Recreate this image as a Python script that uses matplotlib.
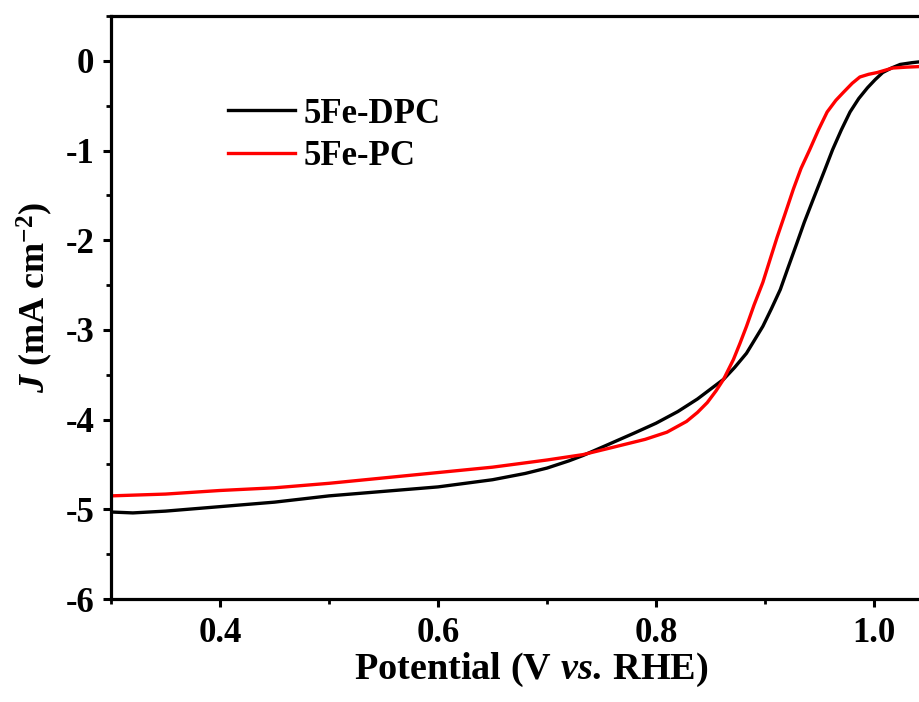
import matplotlib
matplotlib.use("Agg")
import matplotlib.pyplot as plt
from matplotlib.ticker import MultipleLocator

plt.rcParams['font.family'] = ['Liberation Serif', 'DejaVu Serif']
plt.rcParams['font.weight'] = 'bold'
plt.rcParams['mathtext.fontset'] = 'custom'
plt.rcParams['mathtext.rm'] = 'Liberation Serif:bold'
plt.rcParams['mathtext.bf'] = 'Liberation Serif:bold'
plt.rcParams['mathtext.it'] = 'Liberation Serif:bold:italic'
plt.rcParams['mathtext.bfit'] = 'Liberation Serif:bold:italic'

# 5Fe-DPC (black)
dpc_x = [0.30, 0.32, 0.35, 0.40, 0.45, 0.50, 0.55, 0.60, 0.65, 0.68, 0.70, 0.72, 0.733, 0.75,
         0.78, 0.80, 0.82, 0.838, 0.85, 0.862, 0.872, 0.883, 0.890, 0.898, 0.906,
         0.914, 0.921, 0.929, 0.936, 0.944, 0.955, 0.962, 0.970, 0.978, 0.986,
         0.994, 1.001, 1.008, 1.016, 1.024, 1.035, 1.05]
dpc_y = [-5.03, -5.04, -5.02, -4.97, -4.92, -4.85, -4.80, -4.75, -4.67, -4.60, -4.54, -4.46, -4.40, -4.31,
         -4.15, -4.04, -3.91, -3.77, -3.66, -3.55, -3.42, -3.26, -3.12, -2.96, -2.76,
         -2.55, -2.31, -2.04, -1.80, -1.55, -1.21, -0.99, -0.77, -0.57, -0.42,
         -0.30, -0.21, -0.13, -0.08, -0.04, -0.02, 0.00]

# 5Fe-PC (red)
pc_x = [0.30, 0.35, 0.40, 0.45, 0.50, 0.55, 0.60, 0.65, 0.70, 0.733, 0.76, 0.79,
        0.81, 0.828, 0.838, 0.847, 0.855, 0.862, 0.871, 0.877, 0.883, 0.890, 0.898,
        0.905, 0.911, 0.918, 0.926, 0.933, 0.941, 0.949, 0.957, 0.965, 0.972,
        0.980, 0.987, 0.995, 1.003, 1.017, 1.03, 1.05]
pc_y = [-4.85, -4.83, -4.79, -4.76, -4.71, -4.65, -4.59, -4.53, -4.45, -4.39, -4.31, -4.22,
        -4.14, -4.02, -3.92, -3.81, -3.68, -3.55, -3.33, -3.15, -2.96, -2.72, -2.47,
        -2.20, -1.97, -1.72, -1.43, -1.20, -0.99, -0.77, -0.57, -0.44, -0.35,
        -0.25, -0.18, -0.15, -0.13, -0.08, -0.07, -0.06]

series_labels = ['5Fe-DPC', '5Fe-PC']
series_colors = ['black', '#ff0000']

fig = plt.figure(figsize=(9.2, 7.02), dpi=100)
ax = fig.add_axes([0.1207, 0.1467, 0.9478, 0.8305])

ax.plot(dpc_x, dpc_y, color=series_colors[0], lw=2.4, label=series_labels[0],
        solid_joinstyle='round')
ax.plot(pc_x, pc_y, color=series_colors[1], lw=2.4, label=series_labels[1],
        solid_joinstyle='round')

ax.set_xlim(0.3, 1.1)
ax.set_ylim(-6, 0.5)
ax.set_xticks([0.4, 0.6, 0.8, 1.0])
ax.set_xticklabels(['0.4', '0.6', '0.8', '1.0'])
ax.set_yticks([-6, -5, -4, -3, -2, -1, 0])
ax.set_yticklabels(['-6', '-5', '-4', '-3', '-2', '-1', '0'])
ax.xaxis.set_minor_locator(MultipleLocator(0.1))
ax.yaxis.set_minor_locator(MultipleLocator(0.5))

for s in ax.spines.values():
    s.set_linewidth(2.3)
ax.spines['right'].set_visible(False)

ax.tick_params(which='major', direction='out', length=6, width=2.2,
               labelsize=25, top=False, right=False)
ax.tick_params(axis='x', which='major', pad=7)
ax.tick_params(axis='y', which='major', pad=6)
ax.tick_params(which='minor', direction='out', length=3.5, width=2.0,
               top=False, right=False)
for lab in ax.get_xticklabels() + ax.get_yticklabels():
    lab.set_fontweight('bold')

fig.text(0.577, 0.046, r'Potential (V $\mathit{vs.}\,$RHE)', fontsize=27.5,
         fontweight='bold', ha='center', va='center')
fig.text(0.038, 0.577, r'$\mathit{J}$ (mA cm$^{\mathbf{-2}}$)', fontsize=26,
         fontweight='bold', rotation=90, ha='center', va='center')

leg = ax.legend(loc='upper left', bbox_to_anchor=(0.134, 0.86), frameon=False,
                fontsize=25, handlelength=1.93, handletextpad=0.25, labelspacing=0.26,
                borderpad=0, borderaxespad=0)
for t in leg.get_texts():
    t.set_fontweight('bold')

fig.savefig('out.png', dpi=100)
